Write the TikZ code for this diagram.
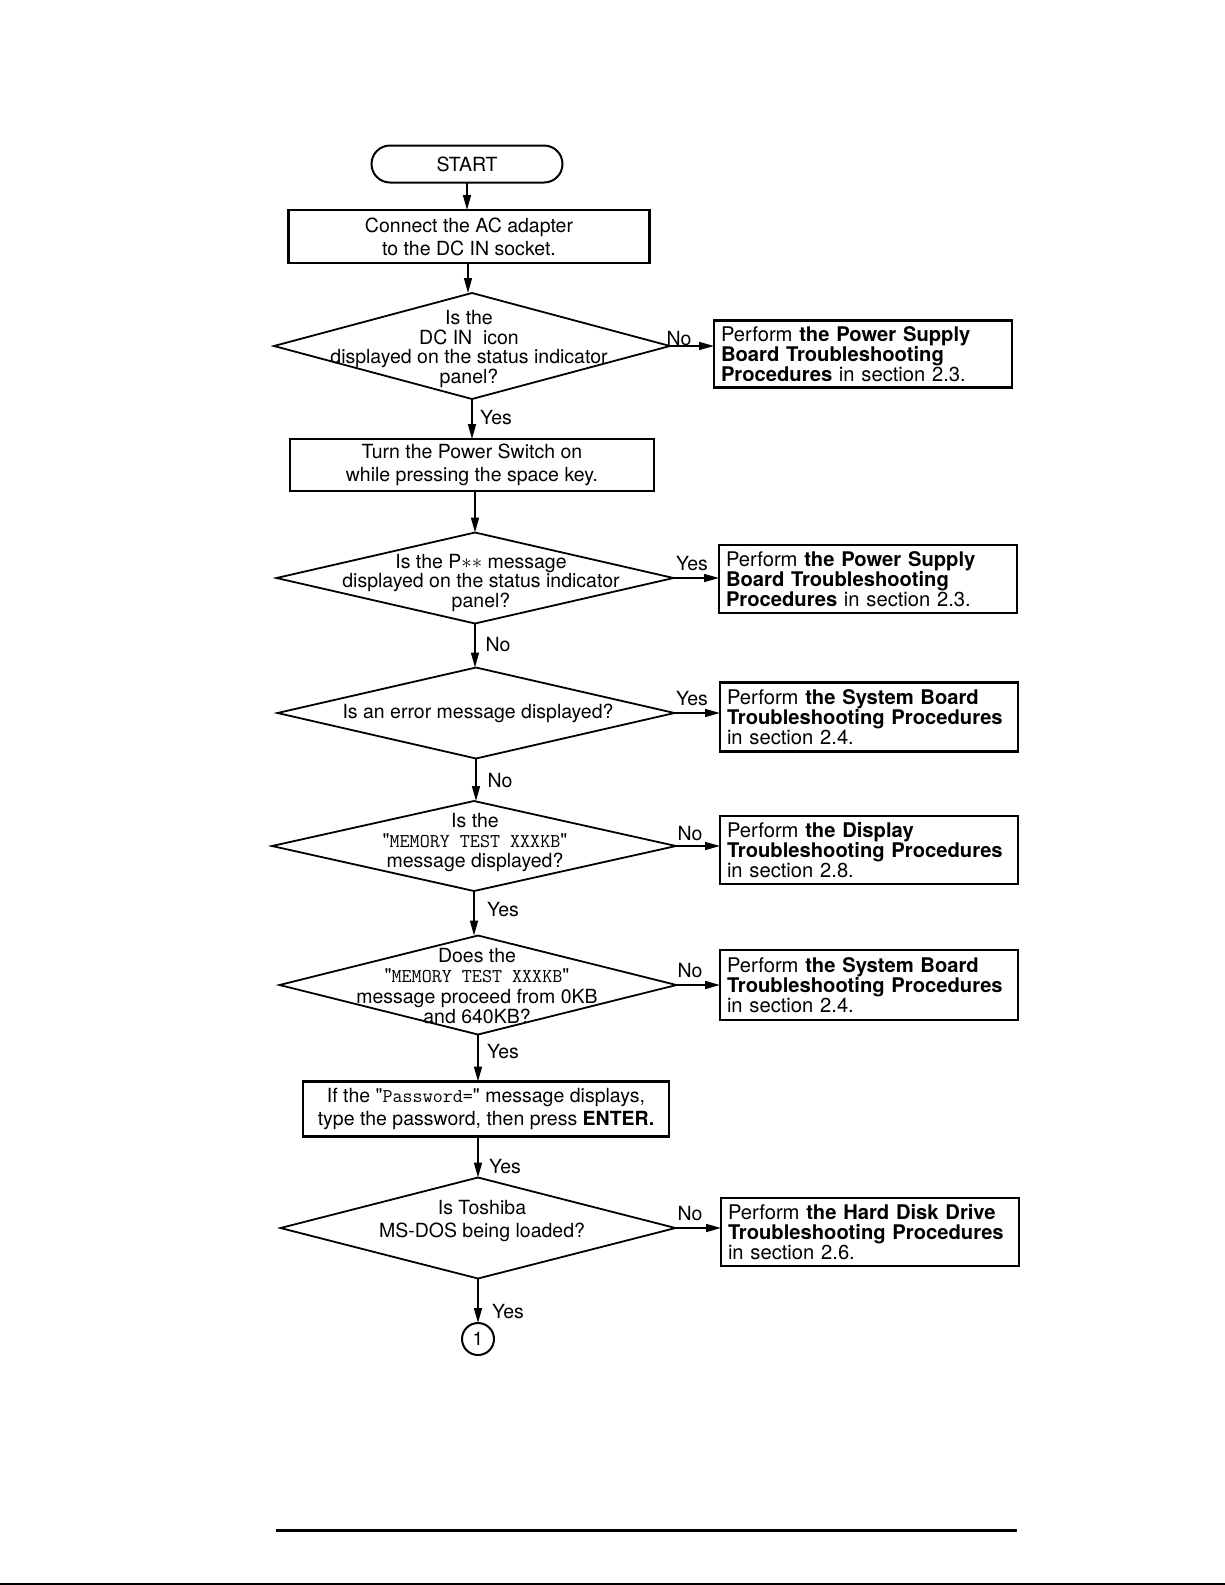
\documentclass[tikz,border=0pt]{standalone}
\usepackage{fontspec}
\setmainfont{TeX Gyre Heros}[Ligatures=TeXOff]
\usetikzlibrary{shapes.geometric,shapes.misc,arrows.meta}
\newcommand\mymono[1]{{\ttfamily\addfontfeature{LetterSpace=8}#1}}
\begin{document}
\begin{tikzpicture}[x=1pt,y=-1pt,
  every node/.style={font=\fontsize{19.5}{23}\selectfont, inner sep=0pt, outer sep=0pt},
  term/.style={rounded rectangle, draw, line width=2pt, minimum width=191pt, minimum height=37pt},
  proc/.style={rectangle, draw, line width=2.5pt, align=center},
  dia/.style={diamond, draw, line width=1.8pt},
  dtext/.style={align=center, font=\fontsize{19.5}{19.8}\selectfont},
  rbox/.style={rectangle, draw, line width=2.5pt, text width=284pt, inner xsep=7pt, align=left, font=\fontsize{20.2}{20.3}\selectfont},
  arr/.style={line width=1.6pt, -{Triangle[length=15pt,width=8pt]}},
  lab/.style={font=\fontsize{19.5}{23}\selectfont},
]
\useasboundingbox (0,0) rectangle (1225,1585);

% main column
\node[term] (start) at (467,164) {START};
\node[proc, minimum width=361pt, minimum height=53pt] (b1) at (469,236.5) {Connect the AC adapter\\to the DC IN socket.};
\node[dia, minimum width=396pt, minimum height=106pt] (d1) at (472,346) {};
\node[dtext] (d1t) at (469,349) {Is the\\DC IN\hspace{0.55em}icon\\displayed on the status indicator\\panel?};
\node[proc, minimum width=364pt, minimum height=52pt] (b2) at (472,465) {Turn the Power Switch on\\while pressing the space key.};
\node[dia, minimum width=397pt, minimum height=91pt] (d2) at (475,578) {};
\node[dtext] (d2t) at (481,583) {Is the P$\ast\ast$\ message\\displayed on the status indicator\\panel?};
\node[dia, minimum width=397pt, minimum height=91pt] (d3) at (476,713) {};
\node[dtext] (d3t) at (478,713) {Is an error message displayed?};
\node[dia, minimum width=404pt, minimum height=90pt] (d4) at (474,846) {};
\node[dtext, font=\fontsize{19.5}{20}\selectfont] (d4t) at (475,843) {Is the\\"\mymono{MEMORY TEST XXXKB}"\\message displayed?};
\node[dia, minimum width=397pt, minimum height=99pt] (d5) at (478,985) {};
\node[dtext, font=\fontsize{19.5}{20.6}\selectfont] (d5t) at (477,986) {Does the\\"\mymono{MEMORY TEST XXXKB}"\\message proceed from 0KB\\and 640KB?};
\node[proc, minimum width=366pt, minimum height=55pt] (pw) at (486,1109) {If the "\mymono{Password=}" message displays,\\type the password, then press \textbf{ENTER.}};
\node[dia, minimum width=395pt, minimum height=101pt] (d6) at (478,1228) {};
\node[dtext, font=\fontsize{19.5}{23}\selectfont] (d6t) at (482,1221) {Is Toshiba\\MS-DOS being loaded?};
\node[circle, draw, line width=2pt, minimum size=32pt, font=\fontsize{19}{19}\selectfont] (c1) at (478,1339) {1};

% right column
\node[rbox, minimum height=67pt] (r1) at (863,354) {Perform \textbf{the Power Supply}\\\textbf{Board Troubleshooting}\\\textbf{Procedures} in section 2.3.};
\node[rbox, minimum height=68pt] (r2) at (868,579) {Perform \textbf{the Power Supply}\\\textbf{Board Troubleshooting}\\\textbf{Procedures} in section 2.3.};
\node[rbox, minimum height=69pt] (r3) at (869,717) {Perform \textbf{the System Board}\\\textbf{Troubleshooting Procedures}\\in section 2.4.};
\node[rbox, minimum height=68pt] (r4) at (869,850) {Perform \textbf{the Display}\\\textbf{Troubleshooting Procedures}\\in section 2.8.};
\node[rbox, minimum height=70pt] (r5) at (869,985) {Perform \textbf{the System Board}\\\textbf{Troubleshooting Procedures}\\in section 2.4.};
\node[rbox, minimum height=68pt] (r6) at (870,1232) {Perform \textbf{the Hard Disk Drive}\\\textbf{Troubleshooting Procedures}\\in section 2.6.};

% vertical connectors
\draw[arr] (start.south) -- (start.south |- b1.north);
\draw[arr] (b1.south -| d1.north) ++(-4,0) coordinate (b1o) -- (b1o |- d1.north);
\draw[arr] (d1.south) -- (d1.south |- b2.north);
\draw[arr] (b2.south -| d2.north) coordinate (b2o) -- (d2.north);
\draw[arr] (d2.south) -- (d2.south |- d3.north);
\draw[arr] (d3.south) -- (d3.south |- d4.north);
\draw[arr] (d4.south) -- (d4.south |- d5.north);
\draw[arr] (d5.south) -- (d5.south |- pw.north);
\draw[arr] (d5.south |- pw.south) coordinate (pwo) -- (d6.north);
\draw[arr] (d6.south) -- (c1.north);

% horizontal connectors
\draw[arr] (d1.east) -- (d1.east -| r1.west);
\draw[arr] (d2.east) -- (d2.east -| r2.west);
\draw[arr] (d3.east) -- (d3.east -| r3.west);
\draw[arr] (d4.east) -- (d4.east -| r4.west);
\draw[arr] (d5.east) -- (d5.east -| r5.west);
\draw[arr] (d6.east) -- (d6.east -| r6.west);

% labels
\node[lab] (l1) at (679,339) {No};
\node[lab] (l2) at (496,418) {Yes};
\node[lab] (l3) at (692,564) {Yes};
\node[lab] (l4) at (498,645) {No};
\node[lab] (l5) at (692,699) {Yes};
\node[lab] (l6) at (500,781) {No};
\node[lab] (l7) at (690,834) {No};
\node[lab] (l8) at (503,910) {Yes};
\node[lab] (l9) at (690,971) {No};
\node[lab] (l10) at (503,1052) {Yes};
\node[lab] (l11) at (505,1167) {Yes};
\node[lab] (l12) at (690,1214) {No};
\node[lab] (l13) at (508,1312) {Yes};

% page rules
\draw[line width=3pt] (276,1530) -- (1017,1530);
\draw[line width=2pt] (0,1583.5) -- (1225,1583.5);
\end{tikzpicture}
\end{document}
